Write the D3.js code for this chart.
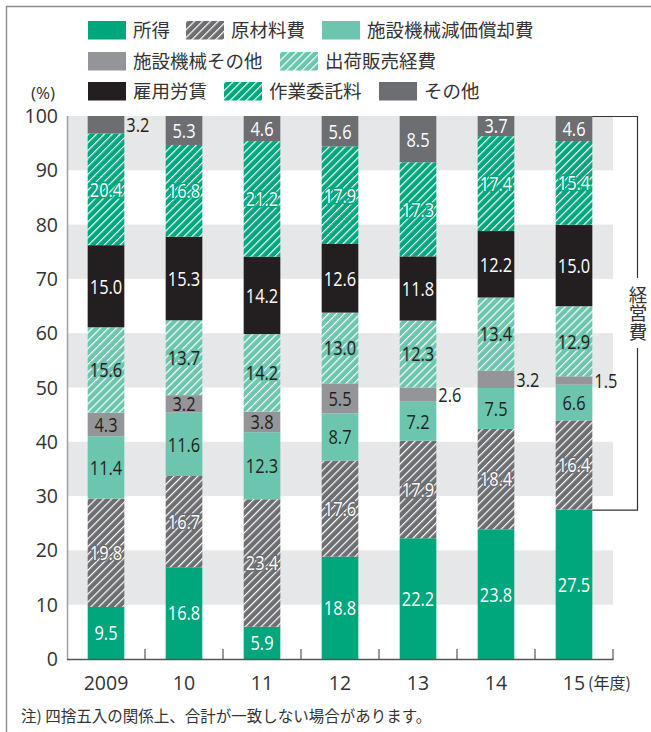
<!DOCTYPE html>
<html>
<head>
<meta charset="utf-8">
<script src="https://cdn.jsdelivr.net/npm/d3@7"></script>
<style>
  body { margin: 0; background: #fff; }
  svg { display: block; }
  .jp { font-family: "Noto Sans CJK JP", "Noto Sans", sans-serif; fill: #333; }
  .num { font-family: "Open Sans", "Noto Sans", sans-serif; fill: #333; }
  .val { font-family: "Open Sans", "Noto Sans", sans-serif; }
</style>
</head>
<body>
<div id="chart"></div>
<script>
// data (%)
const years = ["2009", "10", "11", "12", "13", "14", "15"];
const seriesNames = ["所得", "原材料費", "施設機械減価償却費", "施設機械その他", "出荷販売経費", "雇用労賃", "作業委託料", "その他"];
const shotoku     = [9.5, 16.8, 5.9, 18.8, 22.2, 23.8, 27.5];
const genzairyo   = [19.8, 16.7, 23.4, 17.6, 17.9, 18.4, 16.4];
const genka       = [11.4, 11.6, 12.3, 8.7, 7.2, 7.5, 6.6];
const kikaiSonota = [4.3, 3.2, 3.8, 5.5, 2.6, 3.2, 1.5];
const shukka      = [15.6, 13.7, 14.2, 13.0, 12.3, 13.4, 12.9];
const koyou       = [15.0, 15.3, 14.2, 12.6, 11.8, 12.2, 15.0];
const itaku       = [20.4, 16.8, 21.2, 17.9, 17.3, 17.4, 15.4];
const sonota      = [3.2, 5.3, 4.6, 5.6, 8.5, 3.7, 4.6];
const yTicks = [0, 10, 20, 30, 40, 50, 60, 70, 80, 90, 100];

const allSeries = [shotoku, genzairyo, genka, kikaiSonota, shukka, koyou, itaku, sonota];

// styling per series
const baseColor = ["#00a77d", "#6d6e71", "#6cc5ae", "#939598", "#6cc5ae", "#231f20", "#00a77d", "#6d6e71"];
const hatched   = [false, true, false, false, true, false, true, false];
const lightText = [true, true, false, false, false, true, true, true];
// labels drawn beside the bar: series index -> year indexes
const outside = { 3: [4, 5, 6], 7: [0] };

const width = 651, height = 732;
const svg = d3.select("#chart").append("svg")
  .attr("width", width)
  .attr("height", height);

// hatch patterns
const defs = svg.append("defs");
baseColor.forEach((c, i) => {
  if (!hatched[i]) return;
  const p = defs.append("pattern")
    .attr("id", "hatch" + i)
    .attr("patternUnits", "userSpaceOnUse")
    .attr("width", 5.6)
    .attr("height", 5.6)
    .attr("patternTransform", "rotate(45)");
  p.append("rect").attr("width", 5.6).attr("height", 5.6).attr("fill", c);
  p.append("line")
    .attr("x1", 0.6).attr("y1", 0).attr("x2", 0.6).attr("y2", 5.6)
    .attr("stroke", "#fff").attr("stroke-width", 1.2);
});
const fillOf = i => hatched[i] ? "url(#hatch" + i + ")" : baseColor[i];

// frame (top and left edges)
svg.append("path")
  .attr("d", "M6.5,732V6.5H651")
  .attr("fill", "none")
  .attr("stroke", "#8c8c8c")
  .attr("stroke-width", 1.4);

// scales
const x = d3.scaleBand()
  .domain(years)
  .range([67, 613])
  .paddingInner(0.53)
  .paddingOuter(0.265);

const y = d3.scaleLinear()
  .domain([0, 100])
  .range([659, 116]);

// gray bands
svg.append("g").selectAll("rect")
  .data(yTicks.filter(t => t % 20 === 10))
  .enter().append("rect")
  .attr("x", 67)
  .attr("width", 613 - 67)
  .attr("y", d => y(d + 10))
  .attr("height", d => y(d) - y(d + 10))
  .attr("fill", "#e6e7e8");

// stack (rounded values are normalised to 100)
const table = years.map((yr, j) => {
  const row = { year: yr };
  seriesNames.forEach((n, i) => row[n] = allSeries[i][j]);
  return row;
});
const stacked = d3.stack()
  .keys(seriesNames)
  .offset(d3.stackOffsetExpand)(table);

const layers = svg.append("g").selectAll("g")
  .data(stacked)
  .enter().append("g")
  .attr("fill", (d, i) => fillOf(i));

layers.selectAll("rect")
  .data(d => d)
  .enter().append("rect")
  .attr("x", d => x(d.data.year))
  .attr("width", x.bandwidth())
  .attr("y", d => y(d[1] * 100))
  .attr("height", d => y(d[0] * 100) - y(d[1] * 100));

// value labels (Open Sans squeezed horizontally for a condensed look)
stacked.forEach((layer, i) => {
  const outs = outside[i] || [];
  svg.append("g").selectAll("text")
    .data(layer)
    .enter().append("text")
    .attr("class", "val")
    .attr("transform", (d, j) => {
      const tx = outs.includes(j) ? x(d.data.year) + x.bandwidth() + 2 : x(d.data.year) + x.bandwidth() / 2;
      return `translate(${tx},${y((d[0] + d[1]) * 50)}) scale(0.8,1)`;
    })
    .attr("dy", "0.36em")
    .attr("text-anchor", (d, j) => outs.includes(j) ? "start" : "middle")
    .attr("font-size", 20.5)
    .attr("fill", (d, j) => outs.includes(j) ? "#231f20" : (lightText[i] ? "#fff" : "#231f20"))
    .attr("stroke", (d, j) => (hatched[i] && !outs.includes(j)) ? baseColor[i] : "none")
    .attr("stroke-width", 3)
    .attr("paint-order", "stroke")
    .text((d, j) => allSeries[i][j].toFixed(1));
});

// left axis line
svg.append("line")
  .attr("x1", 67.5).attr("x2", 67.5)
  .attr("y1", y(100)).attr("y2", y(0))
  .attr("stroke", "#a0a0a0")
  .attr("stroke-width", 1.5);

// y tick labels
svg.append("g").selectAll("text")
  .data(yTicks)
  .enter().append("text")
  .attr("class", "num")
  .attr("x", 58)
  .attr("y", d => y(d))
  .attr("dy", "0.36em")
  .attr("text-anchor", "end")
  .attr("font-size", 19.5)
  .text(d => d);

svg.append("text")
  .attr("class", "num")
  .attr("x", 31)
  .attr("y", 93)
  .attr("dy", "0.36em")
  .attr("font-size", 17)
  .text("(%)");

// x axis
const xAxis = svg.append("g")
  .attr("transform", "translate(0," + y(0) + ")")
  .call(d3.axisBottom(x).tickSize(0).tickPadding(17));
xAxis.select(".domain").remove();
xAxis.selectAll("text")
  .attr("class", "num")
  .attr("font-size", 19.5)
  .attr("fill", "#333");

svg.append("line")
  .attr("x1", 67).attr("x2", 613.5)
  .attr("y1", y(0) + 0.5).attr("y2", y(0) + 0.5)
  .attr("stroke", "#555")
  .attr("stroke-width", 1.5);
svg.append("g").selectAll("line")
  .data(d3.range(1, years.length + 1))
  .enter().append("line")
  .attr("x1", i => 67 + i * x.step())
  .attr("x2", i => 67 + i * x.step())
  .attr("y1", y(0) - 10)
  .attr("y2", y(0) + 0.5)
  .attr("stroke", "#555")
  .attr("stroke-width", 1.2);

svg.append("text")
  .attr("class", "jp")
  .attr("x", 588)
  .attr("y", 683)
  .attr("dy", "0.36em")
  .attr("font-size", 16)
  .text("(年度)");

// bracket for 経営費
const last = years.length - 1;
const bx0 = x(years[last]) + x.bandwidth();
const bTop = y(100), bBot = y(stacked[0][last][1] * 100);
svg.append("path")
  .attr("d", `M${bx0},${bTop + 0.5}H637.5V278M637.5,348V${bBot + 0.5}H${bx0}`)
  .attr("fill", "none")
  .attr("stroke", "#333")
  .attr("stroke-width", 1.2);
svg.append("text")
  .attr("class", "jp")
  .attr("font-size", 18.5)
  .attr("x", 638)
  .attr("y", 313)
  .attr("writing-mode", "tb")
  .attr("text-anchor", "middle")
  .text("経営費");

// legend
const legendPos = [[88, 21], [186, 21], [322, 21], [88, 52], [280, 52], [88, 82], [224, 82], [379, 82]];
const legend = svg.append("g").selectAll("g")
  .data(seriesNames)
  .enter().append("g")
  .attr("transform", (d, i) => `translate(${legendPos[i][0]},${legendPos[i][1]})`);
legend.append("rect")
  .attr("width", 38)
  .attr("height", 18.5)
  .attr("fill", (d, i) => fillOf(i));
legend.append("text")
  .attr("class", "jp")
  .attr("x", 45)
  .attr("y", 9.5)
  .attr("dy", "0.36em")
  .attr("font-size", 18.5)
  .text(d => d);

// note
svg.append("text")
  .attr("class", "jp")
  .attr("x", 21)
  .attr("y", 716)
  .attr("dy", "0.36em")
  .attr("font-size", 15.5)
  .text("注) 四捨五入の関係上、合計が一致しない場合があります。");
</script>
</body>
</html>
